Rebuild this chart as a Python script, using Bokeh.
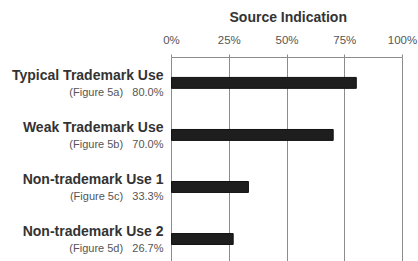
from bokeh.plotting import figure
from bokeh.models import ColumnDataSource, Range1d, FixedTicker, NumeralTickFormatter, LabelSet
from bokeh.core.properties import value
from bokeh.embed import file_html
from bokeh.resources import INLINE

# ---- data ----
categories = ["Typical Trademark Use", "Weak Trademark Use",
              "Non-trademark Use 1", "Non-trademark Use 2"]
figure_refs = ["(Figure 5a)", "(Figure 5b)", "(Figure 5c)", "(Figure 5d)"]
values = [0.800, 0.700, 0.333, 0.267]
tick_values = [0, 0.25, 0.5, 0.75, 1.0]
chart_title = "Source Indication"

positions = list(range(len(categories)))
NBSP = "\u00a0"
subs = [f"{r}{NBSP * 3}{v * 100:.1f}%" for r, v in zip(figure_refs, values)]

src = ColumnDataSource(dict(y=positions, v=values, cat=categories, sub=subs))

FONT = "Liberation Sans"
GRID = "#8c8c8c"

# layout: x = 0 sits 171px from the left, x = 1 sits at 402px (canvas 418 wide)
x_start = -171 / 231
x_end = 1 + 16 / 231
y_top = -0.488
y_bottom = 3.432

p = figure(width=418, height=261, output_backend="svg", toolbar_location=None,
           x_axis_location="above", y_axis_location=None,
           x_range=Range1d(x_start, x_end), y_range=Range1d(y_bottom, y_top),
           min_border_left=0, min_border_right=0,
           min_border_top=56, min_border_bottom=0)

p.outline_line_color = None
p.background_fill_color = "white"
p.border_fill_color = "white"

p.title.text = chart_title
p.title.align = "left"
p.title.offset = 229
p.title.text_font = FONT
p.title.text_font_style = "bold"
p.title.text_font_size = "14px"
p.title.text_color = "#333333"
p.title.standoff = 12

p.hbar(y="y", right="v", left=0, height=0.21, source=src,
       fill_color="#1e1e1e", line_color="#111111", line_width=1)

ax = p.xaxis[0]
ax.ticker = FixedTicker(ticks=tick_values)
ax.bounds = (0, 1)
ax.formatter = NumeralTickFormatter(format="0%")
ax.major_label_text_font = FONT
ax.major_label_text_font_size = "11.5px"
ax.major_label_text_color = "#555555"
ax.axis_line_color = GRID
ax.major_tick_line_color = GRID
ax.major_tick_out = 3
ax.major_tick_in = 0
ax.minor_tick_line_color = None
ax.major_label_standoff = 9

p.xgrid.ticker = FixedTicker(ticks=tick_values)
p.xgrid.grid_line_color = GRID
p.ygrid.visible = False

p.add_layout(LabelSet(x=0, y="y", text="cat", source=src, x_offset=-8, y_offset=3,
                      text_align="right", text_baseline="alphabetic",
                      text_font=value(FONT), text_font_style="bold",
                      text_font_size="14px", text_color="#333333"))
p.add_layout(LabelSet(x=0, y="y", text="sub", source=src, x_offset=-8, y_offset=-13,
                      text_align="right", text_baseline="alphabetic",
                      text_font=value(FONT), text_font_size="11px",
                      text_color="#555555"))

open("out.html", "w").write(file_html(p, INLINE))
